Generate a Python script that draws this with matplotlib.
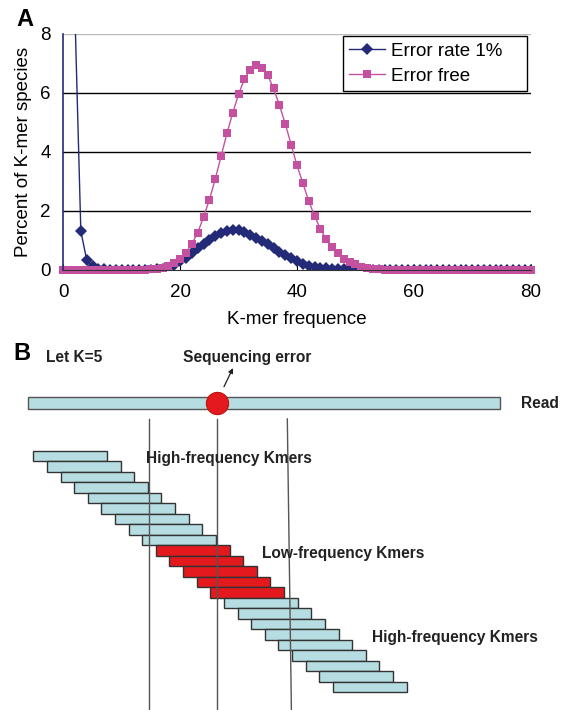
import numpy as np
import matplotlib
matplotlib.use("Agg")
from matplotlib import pyplot as plt
from matplotlib.patches import Rectangle

plt.rcParams['font.family'] = ['Liberation Sans', 'DejaVu Sans']

# ---- panel A data: % of k-mer species vs k-mer frequency ----
kmer_freq = np.arange(0, 81)

error_rate_1pct = [60.0, 30.0, 8.6, 1.32, 0.34, 0.12, 0.05, 0.02, 0.01, 0.01,
                   0.01, 0.01, 0.01, 0.01, 0.01, 0.01, 0.02, 0.04, 0.08, 0.18,
                   0.30, 0.42, 0.58, 0.73, 0.89, 1.02, 1.14, 1.25, 1.33, 1.36,
                   1.34, 1.27, 1.19, 1.09, 0.98, 0.87, 0.75, 0.62, 0.50, 0.39,
                   0.30, 0.21, 0.15, 0.10, 0.08, 0.06, 0.05, 0.04, 0.03, 0.02,
                   0.02, 0.01, 0.01, 0.01, 0.01, 0.01, 0.01, 0.01, 0.01, 0.01,
                   0.01, 0.01, 0.01, 0.01, 0.01, 0.01, 0.01, 0.01, 0.01, 0.01,
                   0.0, 0.0, 0.0, 0.0, 0.0, 0.0, 0.0, 0.0, 0.0, 0.0, 0.0]

error_free = [0.0, 0.0, 0.0, 0.0, 0.0, 0.0, 0.0, 0.0, 0.0, 0.0,
              0.0, 0.0, 0.0, 0.0, 0.0, 0.02, 0.04, 0.08, 0.14, 0.23,
              0.36, 0.59, 0.88, 1.26, 1.79, 2.37, 3.07, 3.84, 4.62, 5.31,
              5.95, 6.46, 6.78, 6.92, 6.84, 6.58, 6.14, 5.57, 4.94, 4.24,
              3.54, 2.94, 2.34, 1.83, 1.39, 1.04, 0.77, 0.56, 0.38, 0.28,
              0.19, 0.11, 0.07, 0.04, 0.02, 0.01, 0.0, 0.0, 0.0, 0.0,
              0.0, 0.0, 0.0, 0.0, 0.0, 0.0, 0.0, 0.0, 0.0, 0.0,
              0.0, 0.0, 0.0, 0.0, 0.0, 0.0, 0.0, 0.0, 0.0, 0.0, 0.0]

series_labels = ['Error rate 1%', 'Error free']
x_ticks = [0, 20, 40, 60, 80]
y_ticks = [0, 2, 4, 6, 8]

# ---- panel B diagram: k-mers along a read ----
K = 5
kmer_kind = ['high'] * 9 + ['low'] * 5 + ['high'] * 9
kmer_offset = np.arange(len(kmer_kind))  # one base shift per k-mer
read_span = (-0.4, 34.3)
error_pos = 13.5
guide_x = [(8.5, 8.5), (13.5, 13.5), (18.65, 18.95)]

NAVY = '#232a78'
PINK = '#c4519f'
LIGHTBLUE = '#b6dde1'
RED = '#e3191e'

W, H = 561, 710
fig = plt.figure(figsize=(W / 100, H / 100), dpi=100)

# ---------------- panel A ----------------
ax = fig.add_axes([63.3 / W, 1 - 270 / H, (530.7 - 63.3) / W, (270 - 33.5) / H])
ax.plot(kmer_freq, error_rate_1pct, color=NAVY, lw=1.0, marker='D', ms=5.8,
        mec=NAVY, mfc=NAVY, mew=0, label=series_labels[0], clip_on=True)
ax.plot(kmer_freq, error_free, color=PINK, lw=1.0, marker='s', ms=5.3,
        mec=PINK, mfc=PINK, mew=0, label=series_labels[1], clip_on=False)
ax.set_xlim(0, 80)
ax.set_ylim(0, 8)
ax.set_xticks(x_ticks)
ax.set_yticks(y_ticks)
for v in y_ticks[1:-1]:
    ax.axhline(v, color='black', lw=1.0, zorder=0)
ax.axhline(8, color='#bbbbbb', lw=1.0, zorder=0)
for s in ['top', 'right']:
    ax.spines[s].set_visible(False)
ax.spines['left'].set_color(NAVY)
ax.spines['left'].set_linewidth(1.2)
ax.spines['bottom'].set_color('#333333')
ax.tick_params(axis='x', direction='in', length=4, pad=10, labelsize=13.5)
ax.tick_params(axis='y', length=0, pad=9, labelsize=13.5)
ax.set_xlabel('K-mer frequence', fontsize=13.5, labelpad=7)
ax.set_ylabel('Percent of K-mer species', fontsize=13.5, labelpad=6)
leg = ax.legend(loc='upper left', bbox_to_anchor=(0.598, 0.0, 0.394, 0.99),
                mode='expand', fontsize=13.5, frameon=True, fancybox=False,
                borderaxespad=0, handlelength=1.9, handletextpad=0.3,
                labelspacing=0.42, borderpad=0.35)
leg.get_frame().set_edgecolor('black')
leg.get_frame().set_linewidth(1.0)
leg.get_frame().set_alpha(1)

fig.text(16 / W, 1 - 19 / H, 'A', fontsize=17, fontweight='bold', va='center', ha='left')
fig.text(13 / W, 1 - 353 / H, 'B', fontsize=17, fontweight='bold', va='center', ha='left')

# ---------------- panel B ----------------
bx = fig.add_axes([0, 0, 1, 370 / H])
bx.set_xlim(-2.445, 38.745)
bx.set_ylim(24.667, -10.571)
bx.axis('off')

kmer_w = 5.41
row_h = 1.0
for i, kind in zip(kmer_offset, kmer_kind):
    fc = RED if kind == 'low' else LIGHTBLUE
    bx.add_patch(Rectangle((i, i), kmer_w, row_h, facecolor=fc,
                           edgecolor='#333333', lw=1.0, zorder=2))

for x0, x1 in guide_x:
    bx.plot([x0, x1], [-3.05, 24.667], color='#555555', lw=1.0, zorder=3)

read_y0, read_y1 = -5.11, -4.0
bx.add_patch(Rectangle((read_span[0], read_y0), read_span[1] - read_span[0],
                       read_y1 - read_y0, facecolor=LIGHTBLUE,
                       edgecolor='#555555', lw=1.0, zorder=2))
bx.plot([error_pos], [(read_y0 + read_y1) / 2], 'o', ms=16, mfc=RED,
        mec='#c01010', mew=0.8, zorder=4)

bx.annotate('', xy=(14.66, -7.9), xytext=(14.0, -6.12),
            arrowprops=dict(arrowstyle='-|>', color='#222222', lw=0.9,
                            mutation_scale=7, shrinkA=0, shrinkB=0))

txt = dict(fontsize=11.2, fontweight='bold', va='center', color='#222222')
bx.text(0.93, -8.95, 'Let K=%d' % K, ha='left', **txt)
bx.text(15.69, -8.95, 'Sequencing error', ha='center', **txt)
bx.text(35.8, -4.56, 'Read', ha='left', **txt)
bx.text(8.27, 0.67, 'High-frequency Kmers', ha='left', **txt)
bx.text(16.77, 9.74, 'Low-frequency Kmers', ha='left', **txt)
bx.text(24.85, 17.74, 'High-frequency Kmers', ha='left', **txt)

fig.savefig('out.png', dpi=100)
